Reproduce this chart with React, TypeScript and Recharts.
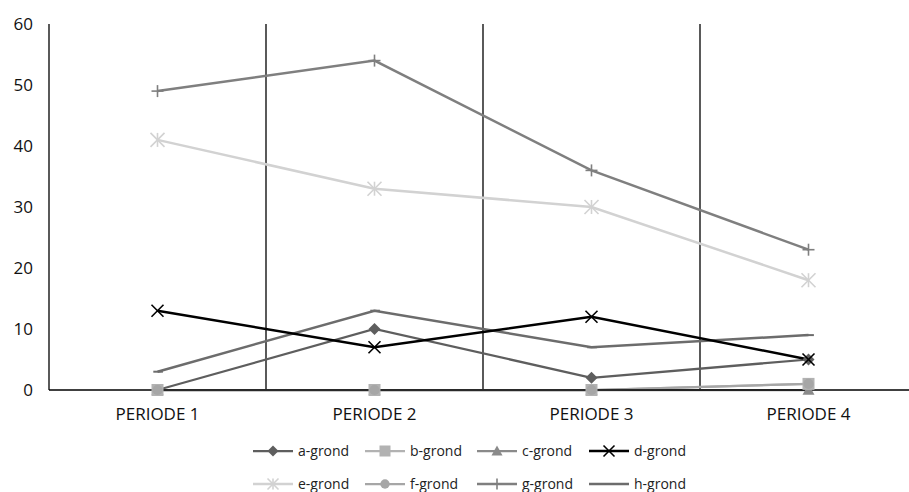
import React from 'react';
import { LineChart, Line, XAxis, YAxis, CartesianGrid } from 'recharts';

const periods = ['PERIODE 1', 'PERIODE 2', 'PERIODE 3', 'PERIODE 4'];
const yTicks = [0, 10, 20, 30, 40, 50, 60];

const aGrond = [0, 10, 2, 5];
const bGrond = [0, 0, 0, 1];
const cGrond = [0, 0, 0, 0];
const dGrond = [13, 7, 12, 5];
const eGrond = [41, 33, 30, 18];
const fGrond = [0, 0, 0, 1];
const gGrond = [49, 54, 36, 23];
const hGrond = [3, 13, 7, 9];

type Shape = 'diamond' | 'square' | 'triangle' | 'x' | 'star' | 'circle' | 'plus' | 'dash';

interface SeriesDef {
  key: string;
  name: string;
  values: number[];
  color: string;
  shape: Shape;
  width: number;
}

const series: SeriesDef[] = [
  { key: 'a', name: 'a-grond', values: aGrond, color: '#5e5e5e', shape: 'diamond', width: 2.25 },
  { key: 'b', name: 'b-grond', values: bGrond, color: '#b2b2b2', shape: 'square', width: 2.25 },
  { key: 'c', name: 'c-grond', values: cGrond, color: '#8a8a8a', shape: 'triangle', width: 2.25 },
  { key: 'd', name: 'd-grond', values: dGrond, color: '#000000', shape: 'x', width: 2.5 },
  { key: 'e', name: 'e-grond', values: eGrond, color: '#d2d2d2', shape: 'star', width: 2.5 },
  { key: 'f', name: 'f-grond', values: fGrond, color: '#a6a6a6', shape: 'circle', width: 2.25 },
  { key: 'g', name: 'g-grond', values: gGrond, color: '#7f7f7f', shape: 'plus', width: 2.5 },
  { key: 'h', name: 'h-grond', values: hGrond, color: '#6c6c6c', shape: 'dash', width: 2.5 },
];

// drawing order: triangles first so squares sit over them at zero
const drawOrder = ['c', 'a', 'b', 'f', 'h', 'd', 'e', 'g'];

const data = periods.map((period, i) => {
  const row: Record<string, string | number> = { period };
  series.forEach((s) => {
    row[s.key] = s.values[i];
  });
  return row;
});

const FONT = '"Open Sans", "Noto Sans", sans-serif';
const PLOT_WIDTH = 868;
const HALF_BAND = PLOT_WIDTH / periods.length / 2;

function Marker({ shape, cx, cy, color, size }: { shape: Shape; cx: number; cy: number; color: string; size: number }) {
  const h = size / 2;
  switch (shape) {
    case 'diamond':
      return <polygon points={`${cx},${cy - h} ${cx + h},${cy} ${cx},${cy + h} ${cx - h},${cy}`} fill={color} />;
    case 'square':
      return <rect x={cx - h} y={cy - h} width={size} height={size} fill={color} />;
    case 'triangle':
      return <polygon points={`${cx},${cy - h} ${cx + h},${cy + h * 0.8} ${cx - h},${cy + h * 0.8}`} fill={color} />;
    case 'circle':
      return <circle cx={cx} cy={cy} r={h * 0.85} fill={color} />;
    case 'x':
      return (
        <g stroke={color} strokeWidth={1.6}>
          <line x1={cx - h} y1={cy - h} x2={cx + h} y2={cy + h} />
          <line x1={cx - h} y1={cy + h} x2={cx + h} y2={cy - h} />
        </g>
      );
    case 'plus':
      return (
        <g stroke={color} strokeWidth={1.6}>
          <line x1={cx - h} y1={cy} x2={cx + h} y2={cy} />
          <line x1={cx} y1={cy - h} x2={cx} y2={cy + h} />
        </g>
      );
    case 'star':
      return (
        <g stroke={color} strokeWidth={1.6}>
          <line x1={cx - h} y1={cy - h} x2={cx + h} y2={cy + h} />
          <line x1={cx - h} y1={cy + h} x2={cx + h} y2={cy - h} />
          <line x1={cx} y1={cy - h} x2={cx} y2={cy + h} />
        </g>
      );
    case 'dash':
    default:
      return <line x1={cx - h * 0.7} y1={cy} x2={cx + h * 0.9} y2={cy} stroke={color} strokeWidth={2} />;
  }
}

const LegendBlock = () => (
  <div
    style={{
      position: 'absolute',
      left: 253,
      top: 434,
      display: 'grid',
      gridTemplateColumns: 'repeat(4, 112px)',
      gridAutoRows: '33px',
      fontFamily: FONT,
      fontSize: 14,
      lineHeight: '18px',
      color: '#222',
    }}
  >
    {series.map((s) => (
      <div key={s.key} style={{ display: 'flex', alignItems: 'center', whiteSpace: 'nowrap' }}>
        <svg width={40} height={16} style={{ marginRight: 5 }}>
          <line x1={0} y1={8} x2={40} y2={8} stroke={s.color} strokeWidth={s.width} />
          <Marker shape={s.shape} cx={20} cy={8} color={s.color} size={11} />
        </svg>
        <span>{s.name}</span>
      </div>
    ))}
  </div>
);

export default function App() {
  return (
    <div
      style={{
        position: 'absolute',
        left: 0,
        top: 0,
        width: 909,
        height: 492,
        overflow: 'hidden',
        background: '#fff',
      }}
    >
      <LineChart
        width={917}
        height={430}
        data={data}
        margin={{ top: 24, right: 0, left: 0, bottom: 0 }}
        style={{ fontFamily: FONT }}
      >
        <CartesianGrid
          horizontal={false}
          stroke="#000"
          strokeWidth={1.3}
          verticalCoordinatesGenerator={({ offset }: any) =>
            [1, 2, 3].map((i) => offset.left + (offset.width * i) / periods.length)
          }
        />
        <XAxis
          dataKey="period"
          height={40}
          padding={{ left: HALF_BAND, right: HALF_BAND }}
          axisLine={{ stroke: '#000', strokeWidth: 1.3 }}
          tickLine={false}
          tickMargin={12}
          tick={{ fill: '#111', fontSize: 17 }}
          interval={0}
        />
        <YAxis
          width={49}
          domain={[0, 60]}
          ticks={yTicks}
          axisLine={{ stroke: '#000', strokeWidth: 1.3 }}
          tickLine={false}
          tickMargin={10}
          tick={{ fill: '#111', fontSize: 17 }}
        />
        {drawOrder.map((k) => {
          const s = series.find((x) => x.key === k)!;
          return (
            <Line
              key={s.key}
              dataKey={s.key}
              name={s.name}
              type="linear"
              stroke={s.color}
              strokeWidth={s.width}
              isAnimationActive={false}
              activeDot={false}
              dot={(p: any) => (
                <Marker
                  key={`${s.key}-${p.index}`}
                  shape={s.shape}
                  cx={p.cx}
                  cy={p.cy}
                  color={s.color}
                  size={s.shape === 'star' ? 14 : 12}
                />
              )}
            />
          );
        })}
      </LineChart>
      <LegendBlock />
    </div>
  );
}
